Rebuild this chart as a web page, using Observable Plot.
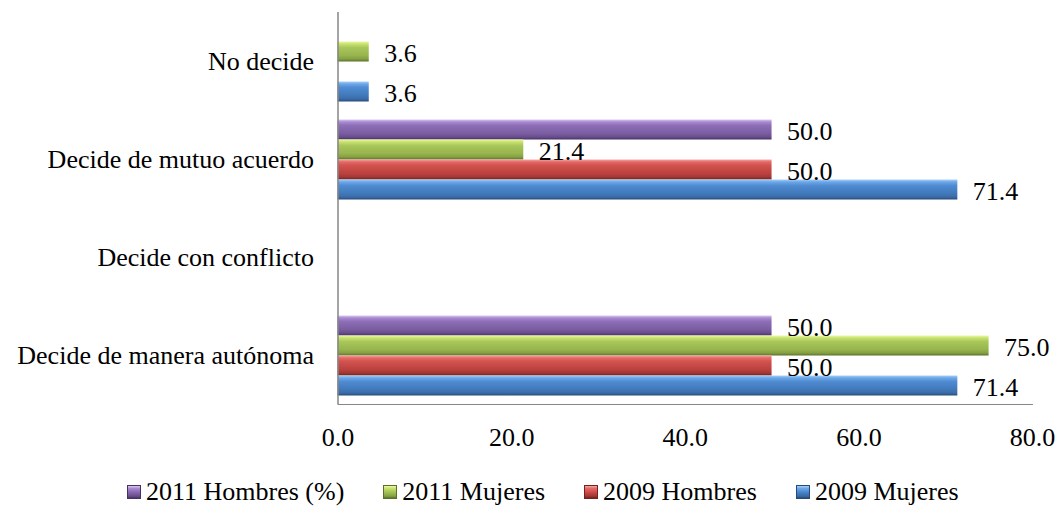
<!DOCTYPE html>
<html>
<head>
<meta charset="utf-8">
<script src="https://cdn.jsdelivr.net/npm/d3@7"></script>
<script src="https://cdn.jsdelivr.net/npm/@observablehq/plot@0.6"></script>
<style>
  html, body { margin: 0; padding: 0; background: #fff; }
  body { font-family: "Liberation Serif", "Times New Roman", serif; width: 1058px; height: 506px; overflow: hidden; }
  #chart svg { display: block; }
  #chart svg text { fill: #000; }
  #legend { display: flex; align-items: center; gap: 39px; padding-left: 127px; padding-top: 23px;
            font-size: 26px; line-height: 26px; color: #000; white-space: nowrap; }
  #legend .item { display: flex; align-items: center; }
  #legend .sw { width: 14px; height: 14px; margin-right: 5px; box-sizing: border-box; }
</style>
</head>
<body>
<div id="chart"></div>
<div id="legend"></div>
<script>
// ---- data ----
const categories = ["No decide", "Decide de mutuo acuerdo", "Decide con conflicto", "Decide de manera autónoma"];
const series = ["2011 Hombres (%)", "2011 Mujeres", "2009 Hombres", "2009 Mujeres"];
const v2011Hombres = [null, 50.0, null, 50.0];
const v2011Mujeres = [3.6, 21.4, null, 75.0];
const v2009Hombres = [null, 50.0, null, 50.0];
const v2009Mujeres = [3.6, 71.4, null, 71.4];
const xTicks = [0, 20, 40, 60, 80];

// ---- styles ----
const gradStops = {
  "2011 Hombres (%)": ["#dcc8f2", "#a98bd2", "#8d6eb7", "#7a5da1", "#684d8c", "#463262"],
  "2011 Mujeres":     ["#ecf8a4", "#c8e26e", "#a9c75b", "#97b44e", "#839f41", "#5a7028"],
  "2009 Hombres":     ["#f6a6a3", "#e36a66", "#d2524e", "#ba413e", "#a23734", "#72221f"],
  "2009 Mujeres":     ["#a9d0f8", "#6ca8e8", "#508cd2", "#4079ba", "#3a6aa6", "#284a78"]
};
const offsets = [0, 0.12, 0.3, 0.7, 0.88, 1];
const gradId = s => "g" + series.indexOf(s);

const seriesValues = [v2011Hombres, v2011Mujeres, v2009Hombres, v2009Mujeres];
const data = [];
categories.forEach((c, i) => series.forEach((s, j) => data.push({category: c, series: s, value: seriesValues[j][i]})));
const has = d => d.value != null;

const chart = Plot.plot({
  width: 1058,
  height: 456,
  marginLeft: 337.5,
  marginRight: 26,
  marginTop: 11.5,
  marginBottom: 51,
  style: {fontFamily: "'Liberation Serif','Times New Roman',serif", fontSize: "26px", color: "#868686", background: "#fff", overflow: "visible"},
  facet: {data, y: "category"},
  fy: {domain: categories, padding: 0, axis: "left", label: null, tickSize: 0, tickPadding: 24},
  y: {domain: series, axis: null, paddingInner: 0, paddingOuter: 0.34},
  x: {domain: [0, 80], ticks: xTicks, tickFormat: d => d.toFixed(1), tickSize: 0, tickPadding: 23, line: true, label: null},
  color: {type: "ordinal", domain: series, range: series.map(s => `url(#${gradId(s)})`)},
  marks: [
    Plot.barX(data, {filter: has, x: "value", y: "series", fill: "series"}),
    Plot.text(data, {filter: has, x: "value", y: "series", text: d => d.value == null ? "" : d.value.toFixed(1), textAnchor: "start", dx: 15, dy: 2, fill: "#000", fontSize: 26}),
    Plot.ruleX([0], {stroke: "#868686", strokeWidth: 1.5})
  ]
});

// gradient defs for the bevelled bars
const ns = "http://www.w3.org/2000/svg";
const defs = document.createElementNS(ns, "defs");
series.forEach(s => {
  const lg = document.createElementNS(ns, "linearGradient");
  lg.setAttribute("id", gradId(s));
  lg.setAttribute("x1", "0"); lg.setAttribute("y1", "0");
  lg.setAttribute("x2", "0"); lg.setAttribute("y2", "1");
  gradStops[s].forEach((c, k) => {
    const st = document.createElementNS(ns, "stop");
    st.setAttribute("offset", offsets[k]);
    st.setAttribute("stop-color", c);
    lg.appendChild(st);
  });
  defs.appendChild(lg);
});
chart.insertBefore(defs, chart.firstChild);
document.getElementById("chart").appendChild(chart);

// legend
const legend = document.getElementById("legend");
series.forEach(s => {
  const item = document.createElement("div");
  item.className = "item";
  const sw = document.createElement("span");
  sw.className = "sw";
  const st = gradStops[s];
  sw.style.background = `linear-gradient(to bottom, ${st[0]} 0%, ${st[1]} 20%, ${st[2]} 45%, ${st[3]} 65%, ${st[4]} 85%, ${st[5]} 100%)`;
  sw.style.border = `1px solid ${st[5]}`;
  const tx = document.createElement("span");
  tx.textContent = s;
  item.appendChild(sw);
  item.appendChild(tx);
  legend.appendChild(item);
});
</script>
</body>
</html>
